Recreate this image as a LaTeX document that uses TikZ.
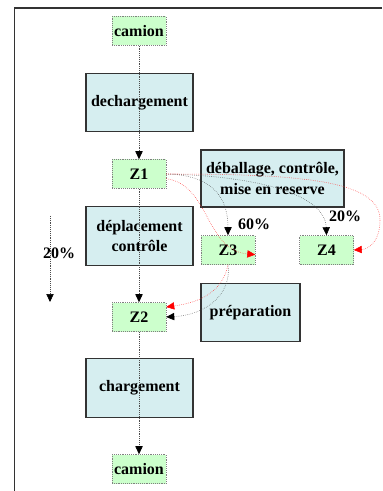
\documentclass[tikz,border=0pt]{standalone}
\usepackage{fontspec}
\setmainfont{Liberation Serif}
\usetikzlibrary{arrows.meta}

\begin{document}
\begin{tikzpicture}[x=0.75pt, y=-0.75pt,
    every node/.style={font=\fontsize{12}{15.5}\selectfont\bfseries},
    zone/.style={draw=gray, densely dotted, fill={rgb,255:red,204;green,255;blue,204},
        minimum width=40.5pt, minimum height=21.75pt, inner sep=0pt},
    task/.style={draw=black!80, thick, fill={rgb,255:red,214;green,238;blue,240},
        minimum height=44pt, inner sep=0pt, align=center},
    flow/.style={densely dotted, black!70, -{Triangle[length=6pt, width=5.5pt, color=black]}},
    redflow/.style={densely dotted, red!80, -{Triangle[length=6pt, width=5.5pt, color=red]}}]
    \useasboundingbox (0, 0) rectangle (382, 491);
    \draw [black!80, thick] (14.5, 491) -- (14.5, 8) -- (382, 8);

    \node [zone] (camionA) at (139, 31) {camion};
    \node [task, minimum width=80.25pt] (dech) at (139.5, 102.5) {dechargement};
    \node [zone] (Z1) at (139, 174) {Z1};
    \node [task, minimum width=107.25pt, minimum height=42.75pt] (deball) at (272.5, 178.5)
        {déballage, contrôle,\\ mise en reserve};
    \node [task, minimum width=80.25pt] (depl) at (139.5, 236) {déplacement\\ contrôle};
    \node [zone] (Z3) at (228, 250) {Z3};
    \node [zone] (Z4) at (326.5, 250) {Z4};
    \node [zone] (Z2) at (139, 317) {Z2};
    \node [task, minimum width=74.25pt] (prep) at (250.5, 312.5) {préparation};
    \node [task, minimum width=80.25pt] (charg) at (139.5, 388) {chargement};
    \node [zone] (camionB) at (139, 469) {camion};

    \node (p60) at (254, 224) {60\%};
    \node (p20a) at (345, 216) {20\%};
    \node (p20b) at (59, 253) {20\%};
    \coordinate (leftA) at (50, 216);
    \coordinate (leftB) at (50, 302);

    \draw [flow] (camionA) -- (Z1);
    \draw [flow] (Z1) -- (Z2);
    \draw [flow] (Z2) -- (camionB);
    \draw [flow] (leftA) -- (leftB);

    \draw [flow] (Z1.east) .. controls (215, 175) and (228, 200) .. (Z3.north);
    \draw [flow] (Z1.east) .. controls (260, 176) and (325, 195) .. (Z4.north);
    \draw [redflow] ([yshift=-3.5pt]Z1.east) .. controls (210, 185) and (205, 250) .. ([yshift=-3.5pt]Z3.east);
    \draw [redflow] (Z1.east) .. controls (300, 174) and (380, 180) .. (380, 220)
        .. controls (380, 240) and (370, 249) .. (Z4.east);
    \draw [redflow] (Z3.south) .. controls (222, 295) and (195, 303) .. ([yshift=7.5pt]Z2.east);
    \draw [flow] (Z3.south) .. controls (232, 295) and (205, 315) .. (Z2.east);
\end{tikzpicture}
\end{document}
